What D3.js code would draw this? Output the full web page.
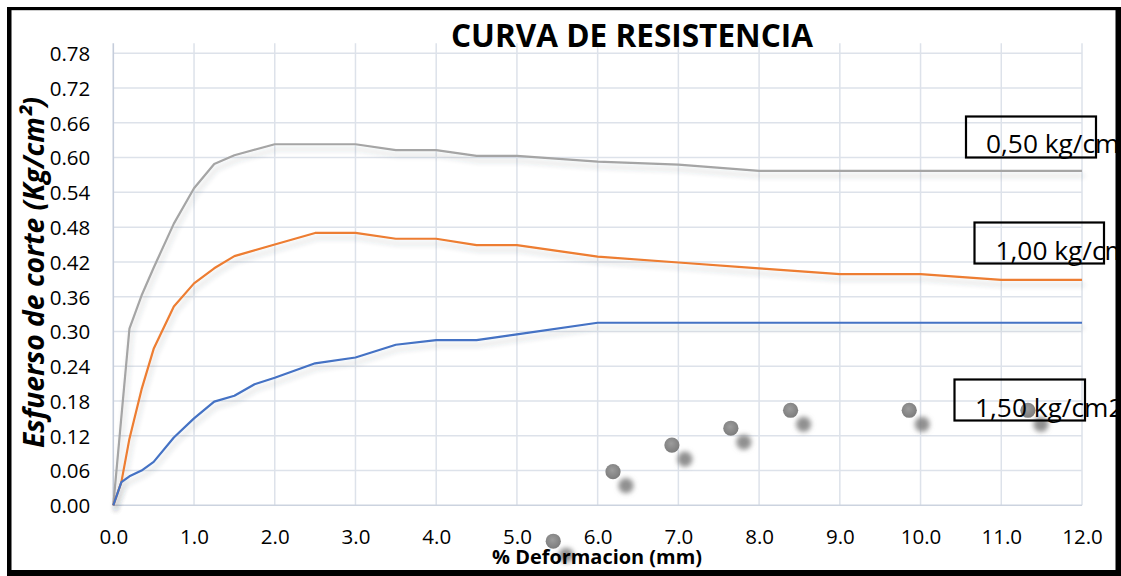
<!DOCTYPE html>
<html>
<head>
<meta charset="utf-8">
<script src="https://cdn.jsdelivr.net/npm/d3@7"></script>
<style>
  html, body { margin: 0; padding: 0; background: #fff; }
  svg { display: block; }
</style>
</head>
<body>
<svg id="chart" width="1121" height="576"></svg>
<script>
// Shear stress vs. deformation, three normal loads
const xTicks = [0, 1, 2, 3, 4, 5, 6, 7, 8, 9, 10, 11, 12];
const yTicks = [0, 0.06, 0.12, 0.18, 0.24, 0.30, 0.36, 0.42, 0.48, 0.54, 0.60, 0.66, 0.72, 0.78];

// 0,50 kg/cm2
const grayX = [0, 0.2, 0.35, 0.5, 0.75, 1.0, 1.25, 1.5, 2.0, 2.5, 3.0, 3.5, 4.0, 4.5, 5.0, 6.0, 7.0, 8.0, 9.0, 10.0, 11.0, 12.0];
const grayY = [0, 0.305, 0.362, 0.41, 0.486, 0.547, 0.589, 0.604, 0.623, 0.623, 0.623, 0.613, 0.613, 0.603, 0.603, 0.593, 0.588, 0.577, 0.577, 0.577, 0.577, 0.577];

// 1,00 kg/cm2
const orangeX = [0, 0.1, 0.2, 0.35, 0.5, 0.75, 1.0, 1.25, 1.5, 2.0, 2.5, 3.0, 3.5, 4.0, 4.5, 5.0, 6.0, 7.0, 8.0, 9.0, 10.0, 11.0, 12.0];
const orangeY = [0, 0.04, 0.115, 0.2, 0.27, 0.343, 0.383, 0.409, 0.43, 0.45, 0.47, 0.47, 0.46, 0.46, 0.449, 0.449, 0.429, 0.419, 0.409, 0.399, 0.399, 0.389, 0.389];

// 1,50 kg/cm2
const blueX = [0, 0.1, 0.2, 0.35, 0.5, 0.75, 1.0, 1.25, 1.5, 1.75, 2.0, 2.5, 3.0, 3.5, 4.0, 4.5, 5.0, 6.0, 7.0, 8.0, 9.0, 10.0, 11.0, 12.0];
const blueY = [0, 0.04, 0.05, 0.06, 0.075, 0.117, 0.15, 0.179, 0.189, 0.209, 0.22, 0.245, 0.255, 0.277, 0.285, 0.285, 0.295, 0.315, 0.315, 0.315, 0.315, 0.315, 0.315, 0.315];

// loose marker points
const dotX = [5.45, 6.19, 6.92, 7.65, 8.39, 9.86, 11.33];
const dotY = [-0.062, 0.058, 0.104, 0.133, 0.164, 0.164, 0.164];

const loadLabels = ["0,50 kg/cm2", "1,00 kg/cm2", "1,50 kg/cm2"];

const svg = d3.select("#chart");
const W = 1121, H = 576;

const x = d3.scaleLinear().domain([0, 12]).range([113.3, 1082]);
const y = d3.scaleLinear().domain([0, 0.8]).range([505.3, 41.7]);

const defs = svg.append("defs");
const lineShadow = defs.append("filter").attr("id", "lineShadow")
  .attr("x", "-5%").attr("y", "-20%").attr("width", "110%").attr("height", "140%");
lineShadow.append("feDropShadow").attr("dx", 2).attr("dy", 5)
  .attr("stdDeviation", 2.5).attr("flood-color", "#3a4250").attr("flood-opacity", 0.22);

const dotShadow = defs.append("filter").attr("id", "dotShadow")
  .attr("x", "-100%").attr("y", "-100%").attr("width", "400%").attr("height", "400%");
dotShadow.append("feDropShadow").attr("dx", 13).attr("dy", 14)
  .attr("stdDeviation", 2.6).attr("flood-color", "#7d7d7d").attr("flood-opacity", 0.85);

const grad = defs.append("radialGradient").attr("id", "dotFill")
  .attr("cx", "45%").attr("cy", "40%").attr("r", "60%");
grad.append("stop").attr("offset", "0%").attr("stop-color", "#9c9c9c");
grad.append("stop").attr("offset", "100%").attr("stop-color", "#7c7c7c");

svg.append("rect").attr("width", W).attr("height", H).attr("fill", "#fff");

// gridlines
const grid = svg.append("g");
grid.selectAll("line.h").data(yTicks.slice(1)).join("line")
  .attr("x1", x(0)).attr("x2", x(12))
  .attr("y1", d => y(d)).attr("y2", d => y(d))
  .attr("stroke", "#dde2ea").attr("stroke-width", 1.5);
grid.selectAll("line.v").data(xTicks.slice(1)).join("line")
  .attr("x1", d => x(d)).attr("x2", d => x(d))
  .attr("y1", y(0)).attr("y2", y(0.8) + 1.5)
  .attr("stroke", "#dde2ea").attr("stroke-width", 1.5);

// axis lines
svg.append("line").attr("x1", x(0)).attr("x2", x(0)).attr("y1", y(0)).attr("y2", y(0.8) + 1.5)
  .attr("stroke", "#c5cddb").attr("stroke-width", 1.6);
svg.append("line").attr("x1", x(0)).attr("x2", x(12)).attr("y1", y(0)).attr("y2", y(0))
  .attr("stroke", "#ccd3df").attr("stroke-width", 1.6);

// axes (labels only)
const yAxis = d3.axisLeft(y).tickValues(yTicks).tickFormat(d3.format(".2f")).tickSize(0).tickPadding(23);
const gy = svg.append("g").attr("transform", `translate(${x(0)},0)`).call(yAxis);
gy.select(".domain").remove();
gy.selectAll("text").attr("font-family", "Open Sans, sans-serif").attr("font-size", 20.5)
  .attr("fill", "#000").attr("dy", "0.36em");

const xAxis = d3.axisBottom(x).tickValues(xTicks).tickFormat(d3.format(".1f")).tickSize(0).tickPadding(0);
const gx = svg.append("g").attr("transform", `translate(0,${y(0)})`).call(xAxis);
gx.select(".domain").remove();
gx.selectAll("text").attr("font-family", "Open Sans, sans-serif").attr("font-size", 20.5)
  .attr("fill", "#000").attr("dy", null).attr("y", 39);

// series
const series = [
  { xs: grayX, ys: grayY, color: "#a5a5a5" },
  { xs: orangeX, ys: orangeY, color: "#ed7d31" },
  { xs: blueX, ys: blueY, color: "#4472c4" }
];
const line = d3.line().x(d => x(d[0])).y(d => y(d[1]));
series.forEach(s => {
  const pts = s.xs.map((v, i) => [v, s.ys[i]]);
  svg.append("path").datum(pts).attr("d", line)
    .attr("fill", "none").attr("stroke", s.color).attr("stroke-width", 2.2)
    .attr("stroke-linejoin", "round").attr("filter", "url(#lineShadow)");
});

// marker points
svg.append("g").selectAll("circle").data(dotX.map((v, i) => [v, dotY[i]])).join("circle")
  .attr("cx", d => x(d[0])).attr("cy", d => y(d[1])).attr("r", 7.6)
  .attr("fill", "url(#dotFill)").attr("filter", "url(#dotShadow)");

// load labels with boxes
const boxes = [
  { lx: 966, ly: 116.5, w: 130, h: 41, tx: 986, ty: 153 },
  { lx: 974.5, ly: 222.5, w: 129.5, h: 41, tx: 995.5, ty: 259.5 },
  { lx: 954.5, ly: 379.5, w: 130.5, h: 41, tx: 975, ty: 416.5 }
];
boxes.forEach((b, i) => {
  svg.append("rect").attr("x", b.lx).attr("y", b.ly).attr("width", b.w).attr("height", b.h)
    .attr("fill", "none").attr("stroke", "#000").attr("stroke-width", 2.2);
  svg.append("text").attr("x", b.tx).attr("y", b.ty)
    .attr("font-family", "Open Sans, sans-serif").attr("font-size", 26.3).attr("fill", "#000")
    .text(loadLabels[i]);
});

// title
svg.append("text").attr("x", 632).attr("y", 46.5).attr("text-anchor", "middle")
  .attr("font-family", "Open Sans, sans-serif").attr("font-weight", 700).attr("font-size", 32)
  .attr("textLength", 362).attr("lengthAdjust", "spacingAndGlyphs")
  .text("CURVA DE RESISTENCIA");

// axis titles
svg.append("text").attr("transform", "translate(44,272.5) rotate(-90)").attr("text-anchor", "middle")
  .attr("font-family", "Open Sans, sans-serif").attr("font-weight", 700).attr("font-style", "italic")
  .attr("font-size", 29).attr("textLength", 351).attr("lengthAdjust", "spacingAndGlyphs")
  .text("Esfuerso de corte (Kg/cm²)");

svg.append("text").attr("x", 597).attr("y", 564).attr("text-anchor", "middle")
  .attr("font-family", "Open Sans, sans-serif").attr("font-weight", 700)
  .attr("font-size", 19).attr("textLength", 210).attr("lengthAdjust", "spacingAndGlyphs")
  .text("% Deformacion (mm)");

// frame
svg.append("rect").attr("x", 7).attr("y", 7).attr("width", 1114).attr("height", 3.2).attr("fill", "#000");
svg.append("rect").attr("x", 7).attr("y", 7).attr("width", 4.5).attr("height", 569).attr("fill", "#000");
svg.append("rect").attr("x", 1115.5).attr("y", 7).attr("width", 5.5).attr("height", 569).attr("fill", "#000");
svg.append("rect").attr("x", 7).attr("y", 570).attr("width", 1114).attr("height", 6).attr("fill", "#000");
</script>
</body>
</html>
